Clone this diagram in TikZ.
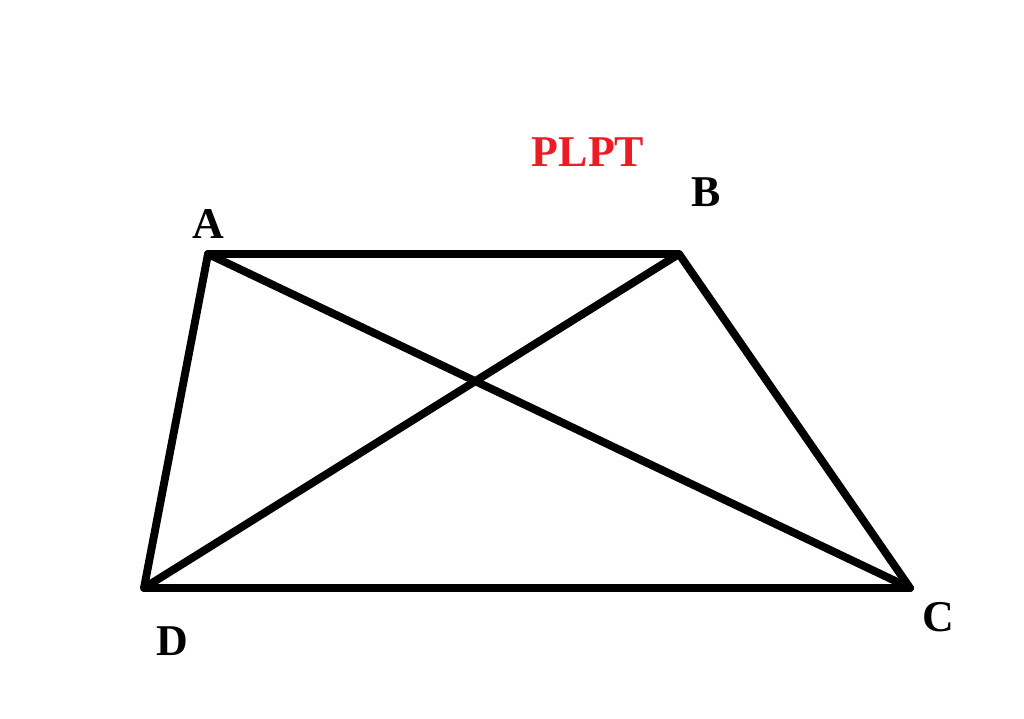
\documentclass[tikz,border=0pt]{standalone}
\usepackage{fontspec}
\setmainfont{Liberation Serif}
\usetikzlibrary{positioning}
\definecolor{plptred}{RGB}{237,28,36}
\begin{document}
\begin{tikzpicture}[x=0.02cm,y=-0.02cm,
		edge/.style = {line width = 4.5pt,line join = round,line cap = round},
		vlabel/.style = {font = \fontsize{25}{25}\selectfont\bfseries,inner sep = 0pt}]
		\useasboundingbox (0,0) rectangle (1024,719);
		\coordinate (A) at (208,254);
		\coordinate (B) at (679,254);
		\coordinate (C) at (910,588);
		\coordinate (D) at (144,588);
		\node[vlabel] at (208,224) (la) {A};
		\node[vlabel] at (706,192) (lb) {B};
		\node[vlabel] at (938,617) (lc) {C};
		\node[vlabel] at (172,641) (ld) {D};
		\node[vlabel,text = plptred] at (588,152) (title) {PLPT};
		\draw[edge] (A) -- (B) -- (C) -- (D) -- cycle;
		\draw[edge] (A) -- (C);
		\draw[edge] (B) -- (D);
	\end{tikzpicture}
\end{document}
